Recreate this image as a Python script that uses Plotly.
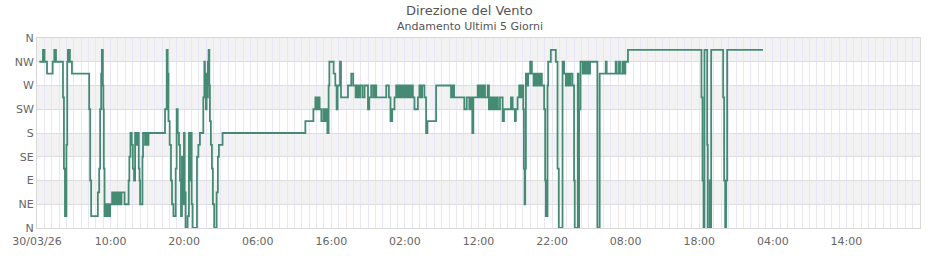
import pandas as pd
import plotly.graph_objects as go

# ---- data (hours after 30/03/26 00:00, wind direction in degrees) ----
hours = [0.31, 0.81, 1.02, 1.36, 2.13, 2.35, 2.58, 3.53, 3.66, 3.80, 4.00, 4.11, 4.20, 4.30, 4.38, 4.47, 4.75,
         7.09, 7.23, 7.36, 8.27, 8.45, 8.58, 8.72, 8.81, 8.95, 9.02, 9.08, 9.18, 9.40, 9.53, 9.67, 9.80, 9.94,
         10.21, 10.40, 10.62, 10.75, 10.85, 11.02, 11.16, 11.29, 11.48, 11.90, 12.45, 12.55, 12.70, 12.88, 13.02,
         13.19, 13.33, 13.56, 13.74, 13.83, 13.93, 14.01, 14.33, 14.41, 14.68, 14.78, 14.92, 15.15, 17.40, 17.63,
         17.76, 17.86, 18.03, 18.21, 18.35, 18.54, 18.85, 18.98, 19.12, 19.29, 19.43, 19.57, 19.70, 19.84, 19.97,
         20.07, 20.20, 20.47, 20.65, 20.79, 20.88, 21.02, 21.15, 21.74, 21.93, 22.14, 22.60, 22.74, 22.82, 22.96,
         23.05, 23.15, 23.23, 23.32, 23.42, 23.50, 23.63, 23.77, 23.90, 24.09, 24.41, 24.58, 24.72, 25.22,
         36.47, 37.56, 37.83, 38.06, 38.20, 38.41, 38.64, 38.92, 39.09, 39.23, 39.46, 39.63, 39.73, 40.31, 40.54,
         40.72, 40.85, 41.18, 41.31, 42.26, 42.71, 42.98, 43.30, 43.53, 43.70, 43.93, 44.24, 44.52, 44.98, 45.15,
         45.42, 45.69, 45.87, 46.10, 47.46, 47.82, 48.04, 48.27, 48.58, 48.81, 48.99, 49.18, 49.40, 49.63, 49.80,
         50.03, 50.26, 50.44, 50.62, 50.85, 51.08, 51.30, 51.76, 51.97, 52.16, 52.34, 52.65, 52.88, 53.06, 54.24,
         56.27, 56.50, 56.68, 58.07, 58.40, 58.75, 58.98, 59.16, 59.30, 59.89, 60.07, 60.30, 60.48, 60.71, 60.88,
         61.25, 61.42, 61.60, 61.83, 62.01, 62.24, 62.41, 62.64, 62.92, 63.28, 63.46, 64.41, 64.64, 64.95, 65.08,
         65.31, 65.53, 65.76, 65.90, 66.08, 66.17, 66.26, 66.35, 66.44, 66.62, 66.75, 67.02, 67.25, 67.48, 67.66,
         67.84, 68.07, 68.24, 68.43, 68.61, 68.92, 69.06, 69.15, 69.38, 69.47, 69.83, 70.51, 70.74, 70.91, 71.42,
         71.63, 71.86, 72.10, 72.27, 72.50, 72.77, 72.99, 73.08, 73.49, 73.59, 73.67, 73.86, 74.17, 74.35, 74.58,
         74.75, 74.98, 75.16, 76.16, 76.47, 77.29, 77.42, 78.64, 78.78, 79.09, 79.23, 79.55, 79.77, 79.96, 80.31,
         90.30, 90.44, 90.58, 90.71, 91.08, 91.16, 91.43, 91.53, 91.62, 93.25, 93.38, 93.52, 93.66, 93.79, 98.67]

dirs = [315, 337.5, 315, 292.5, 315, 337.5, 315, 247.5, 112.5, 22.5, 157.5, 315, 337.5, 315, 337.5, 315, 292.5,
        225, 90, 22.5, 67.5, 112.5, 225, 292.5, 337.5, 270, 225, 112.5, 22.5, 45, 22.5, 45, 22.5, 45,
        67.5, 45, 67.5, 45, 67.5, 45, 67.5, 45, 67.5, 45, 90, 135, 180, 157.5, 112.5,
        90, 180, 157.5, 180, 112.5, 90, 45, 135, 180, 157.5, 180, 157.5, 180, 225, 337.5,
        292.5, 202.5, 157.5, 90, 45, 22.5, 112.5, 225, 180, 157.5, 90, 22.5, 135, 45, 180,
        67.5, 0, 22.5, 180, 90, 180, 45, 0, 135, 157.5, 180, 247.5, 315, 270, 225,
        292.5, 247.5, 315, 337.5, 270, 202.5, 157.5, 112.5, 45, 0, 67.5, 135, 157.5, 180,
        202.5, 225, 247.5, 225, 247.5, 225, 202.5, 225, 202.5, 225, 180, 270, 315, 292.5, 270,
        225, 270, 315, 247.5, 270, 292.5, 270, 247.5, 270, 247.5, 270, 247.5, 270, 225, 247.5,
        270, 247.5, 270, 247.5, 270, 247.5, 202.5, 225, 247.5, 270, 247.5, 270, 247.5, 270, 247.5,
        270, 247.5, 270, 247.5, 270, 247.5, 225, 247.5, 270, 247.5, 270, 247.5, 180, 202.5, 270,
        247.5, 270, 247.5, 225, 247.5, 225, 247.5, 180, 247.5, 270, 247.5, 270, 247.5, 270, 247.5,
        270, 225, 247.5, 225, 247.5, 225, 247.5, 225, 247.5, 202.5, 225, 247.5, 225, 202.5, 225,
        247.5, 270, 247.5, 270, 225, 112.5, 45, 112.5, 292.5, 270, 292.5, 315, 292.5, 270, 292.5,
        270, 292.5, 270, 292.5, 270, 225, 90, 22.5, 270, 315, 337.5, 315, 112.5, 0, 315,
        292.5, 270, 292.5, 270, 292.5, 270, 90, 0, 292.5, 0, 225, 315, 292.5, 315, 292.5,
        315, 292.5, 315, 0, 292.5, 315, 292.5, 315, 292.5, 315, 292.5, 315, 292.5, 315, 337.5,
        247.5, 90, 0, 337.5, 157.5, 0, 90, 0, 337.5, 247.5, 90, 0, 90, 337.5, 337.5]

direction_vals = [0, 45, 90, 135, 180, 225, 270, 315, 360]
direction_labels = ["N", "NE", "E", "SE", "S", "SW", "W", "NW", "N"]

tick_hours = [0, 10, 20, 30, 40, 50, 60, 70, 80, 90, 100, 110]
tick_labels = ["30/03/26", "10:00", "20:00", "06:00", "16:00", "02:00",
               "12:00", "22:00", "08:00", "18:00", "04:00", "14:00"]

start = pd.Timestamp("2026-03-30 00:00")
end = start + pd.Timedelta(hours=120)
times = [start + pd.Timedelta(hours=h) for h in hours]

# hourly grid with labels every 10 hours
grid_times = [start + pd.Timedelta(hours=h) for h in range(0, 121)]
label_map = dict(zip(tick_hours, tick_labels))
grid_text = [label_map.get(h, "") for h in range(0, 121)]

fig = go.Figure()
fig.add_trace(go.Scatter(
    x=times, y=dirs, mode="lines", line=dict(color="#458b74", width=1.8, shape="hv"),
    hoverinfo="x+y", showlegend=False))

# alternating bands
shapes = []
for i in range(len(direction_vals) - 1):
    if i % 2 == 1:
        shapes.append(dict(type="rect", xref="paper", yref="y", x0=0, x1=1,
                           y0=direction_vals[i], y1=direction_vals[i + 1],
                           fillcolor="#f2f2f2", line=dict(width=0), layer="below"))

fig.update_layout(
    width=940, height=260,
    margin=dict(l=35, r=20, t=38, b=30),
    paper_bgcolor="white", plot_bgcolor="white",
    font=dict(family="DejaVu Sans", size=11, color="#666666"),
    shapes=shapes,
    annotations=[
        dict(text="Direzione del Vento", xref="paper", yref="paper", x=0.49, y=1.146,
             xanchor="center", yanchor="middle", showarrow=False,
             font=dict(size=13, color="#555555")),
        dict(text="Andamento Ultimi 5 Giorni", xref="paper", yref="paper", x=0.49, y=1.062,
             xanchor="center", yanchor="middle", showarrow=False,
             font=dict(size=11, color="#555555")),
    ],
)

fig.update_xaxes(
    type="date", range=[start, end],
    tickmode="array", tickvals=grid_times, ticktext=grid_text,
    showgrid=True, gridcolor="#e8e6f8", gridwidth=1,
    showline=True, linecolor="#d8d8d8", linewidth=1, mirror=True,
    ticks="", ticklabelstandoff=3, zeroline=False, tickfont=dict(size=11, color="#666666"),
)
fig.update_yaxes(
    range=[0, 360], tickmode="array", tickvals=direction_vals, ticktext=direction_labels,
    showgrid=True, gridcolor="#dddddd", gridwidth=1,
    showline=True, linecolor="#d8d8d8", linewidth=1, mirror=True,
    ticks="", zeroline=False, tickfont=dict(size=11, color="#666666"),
)

fig.write_html("out.html")
